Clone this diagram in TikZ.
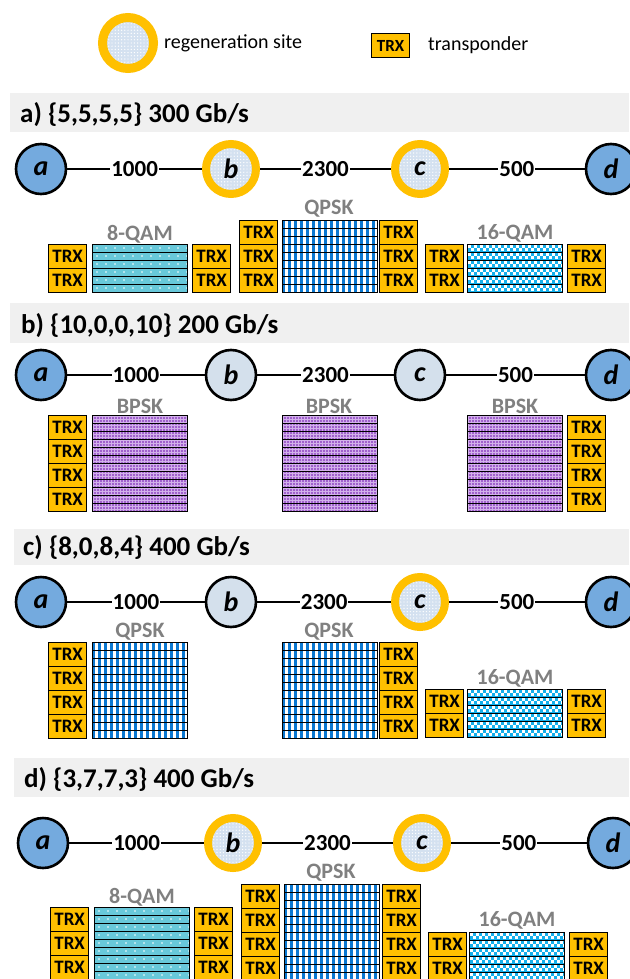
\documentclass[tikz,border=0pt]{standalone}
\usepackage{fontspec}
\setmainfont{Carlito}
\newcommand\myfs[1]{\fontsize{#1}{#1}\selectfont}
\definecolor{gold}{RGB}{255,192,0}
\definecolor{nodeblue}{RGB}{116,170,222}
\definecolor{nodelight}{RGB}{212,224,236}
\definecolor{regenfill}{RGB}{212,225,240}
\definecolor{hdr}{RGB}{240,240,240}
\definecolor{modgray}{RGB}{128,128,128}
\definecolor{qam8col}{RGB}{104,200,218}
\definecolor{qpskcol}{RGB}{10,120,210}
\definecolor{qam16col}{RGB}{20,176,236}
\definecolor{bpskcol}{RGB}{160,96,204}
\definecolor{bpsklight}{RGB}{210,176,234}
\tikzset{
  every node/.style={inner sep=0pt},
  trx/.style={draw=black, line width=1.3pt, fill=gold, minimum width=38pt, minimum height=24pt, anchor=north west, font=\myfs{19}\bfseries},
  endnode/.style={circle, draw=black, line width=2.6pt, fill=nodeblue, minimum size=50pt, font=\myfs{28}\bfseries\itshape},
  midnode/.style={endnode, fill=nodelight},
  regen/.style={circle, draw=gold, line width=8pt, fill=regenfill, minimum size=50pt, outer sep=4pt, font=\myfs{28}\bfseries\itshape,
    path picture={\foreach \i in {-7,...,7}\foreach \j in {-7,...,7}\fill[white] ([xshift=\i*3.2pt,yshift=\j*3.2pt]path picture bounding box.center) circle (0.7pt);}},
  link/.style={line width=2.2pt, draw=black},
  dist/.style={fill=white, inner xsep=1pt, inner ysep=1pt, font=\myfs{23}\bfseries},
  modlbl/.style={text=modgray, font=\myfs{22}\bfseries},
  title/.style={anchor=base west, font=\myfs{27}\bfseries},
  chanbox/.style={anchor=north west, minimum width=95pt, inner sep=0pt},
  sepline/.style={black, line width=0.8pt},
  chanedge/.style={black, line width=1pt},
  hdrband/.style={fill=hdr},
}
\newcommand\patqpsk[3]{%
  \foreach \i in {0,...,15} \fill[white] (#1+2.5+6*\i,#2) rectangle ++(3,8*#3);}
\newcommand\patqamE[3]{%
  \foreach \r in {1,...,#3}\foreach \i in {0,...,10} \fill[white] (#1+5+9*\i,#2+8*\r-4) circle (0.8);}
\newcommand\patqamS[3]{%
  \foreach \r in {1,...,#3}\foreach \i in {0,...,16}{%
    \fill[white] (#1+1+6*\i,#2+8*\r-7) rectangle ++(2.6,2.6);
    \fill[white] (#1+4+6*\i,#2+8*\r-3.6) rectangle ++(2.6,2.6);}}
\newcommand\patbpsk[3]{%
  \pgfmathtruncatemacro\bpn{8*#3/3}
  \foreach \i in {0,...,31} \draw[bpsklight, line width=0.8pt] (#1+1.5+3*\i,#2) -- ++(0,8*#3);
  \foreach \j in {0,...,\bpn} \draw[bpsklight, line width=0.8pt] (#1,#2+1.5+3*\j) -- ++(95,0);}
% name, x, y, stripes, type, colour
\newcommand\Chan[6]{%
  \pgfmathsetmacro\chh{8*#4}
  \node[chanbox, fill=#6, minimum height=\chh pt] (#1) at (#2,#3) {};
  \begin{scope}
    \clip (#2,#3) rectangle ++(95,\chh);
    \csname pat#5\endcsname{#2}{#3}{#4}
  \end{scope}
  \pgfmathtruncatemacro\chlast{#4-1}
  \foreach \k in {1,...,\chlast} \draw[sepline] (#2,#3+8*\k) -- ++(95,0);
  \draw[chanedge] (#1.north west) rectangle (#1.south east);
}
% name, x, y, count
\newcommand\Stack[4]{%
  \pgfmathtruncatemacro\stlast{#4-1}
  \foreach \k in {0,...,\stlast}{\node[trx] (#1\k) at (#2,#3+24*\k) {TRX};}
}
% prefix, y, x offset, style b, style c
\newcommand\Net[5]{%
  \node[endnode] (#1a) at (41+#3,#2) {a};
  \node[#4] (#1b) at (231+#3,#2) {b};
  \node[#5] (#1c) at (420+#3,#2) {c};
  \node[endnode] (#1d) at (611+#3,#2) {d};
  \draw[link] (#1a) -- node[dist]{1000} (#1b);
  \draw[link] (#1b) -- node[dist]{2300} (#1c);
  \draw[link] (#1c) -- node[dist]{500} (#1d);
}
\begin{document}
\begin{tikzpicture}[x=1pt,y=-1pt]
\useasboundingbox (0,0) rectangle (629,979);
\fill[white] (0,0) rectangle (629,979);
% legend
\node[regen, line width=9pt, minimum size=51pt] (lgR) at (128,43) {};
\node[anchor=west, font=\myfs{20}] (lgRt) at (164,43) {regeneration site};
\node[trx, font=\myfs{17}\bfseries] (lgT) at (371,33) {TRX};
\node[anchor=west, font=\myfs{20}] (lgTt) at (428,45) {transponder};
% ---------- a ----------
\fill[hdrband] (10,93) rectangle (629,132);
\node[title] (tA) at (20,122) {a) \{5,5,5,5\} 300 Gb/s};
\Net{A}{169}{0}{regen}{regen}
\Stack{AL}{48}{244}{2}
\Chan{Ach1}{92}{244}{6}{qamE}{qam8col}
\Stack{AM}{192}{244}{2}
\Stack{AN}{239}{220}{3}
\Chan{Ach2}{282}{220}{9}{qpsk}{qpskcol}
\Stack{AO}{379}{220}{3}
\Stack{AP}{425}{244}{2}
\Chan{Ach3}{467}{244}{6}{qamS}{qam16col}
\Stack{AR}{567}{244}{2}
\node[modlbl] (Am1) at (140,234) {8-QAM};
\node[modlbl] (Am2) at (329,209) {QPSK};
\node[modlbl] (Am3) at (515,233) {16-QAM};
% ---------- b ----------
\fill[hdrband] (10,303) rectangle (629,343);
\node[title] (tB) at (21,333) {b) \{10,0,0,10\} 200 Gb/s};
\Net{B}{375}{0}{midnode}{midnode}
\Stack{BL}{48}{415}{4}
\Chan{Bch1}{92}{415}{12}{bpsk}{bpskcol}
\Chan{Bch2}{282}{415}{12}{bpsk}{bpskcol}
\Chan{Bch3}{467}{415}{12}{bpsk}{bpskcol}
\Stack{BR}{567}{415}{4}
\node[modlbl] (Bm1) at (140,406) {BPSK};
\node[modlbl] (Bm2) at (329,406) {BPSK};
\node[modlbl] (Bm3) at (515,406) {BPSK};
% ---------- c ----------
\fill[hdrband] (14,529) rectangle (629,565);
\node[title] (tC) at (23,555) {c) \{8,0,8,4\} 400 Gb/s};
\Net{C}{602}{0}{midnode}{regen}
\Stack{CL}{48}{642}{4}
\Chan{Cch1}{92}{642}{12}{qpsk}{qpskcol}
\Chan{Cch2}{282}{642}{12}{qpsk}{qpskcol}
\Stack{CO}{379}{642}{4}
\Stack{CP}{425}{689}{2}
\Chan{Cch3}{467}{689}{6}{qamS}{qam16col}
\Stack{CR}{567}{689}{2}
\node[modlbl] (Cm1) at (140,632) {QPSK};
\node[modlbl] (Cm2) at (329,632) {QPSK};
\node[modlbl] (Cm3) at (515,678) {16-QAM};
% ---------- d ----------
\fill[hdrband] (14,758) rectangle (629,797);
\node[title] (tD) at (24,787) {d) \{3,7,7,3\} 400 Gb/s};
\Net{D}{843}{2}{regen}{regen}
\Stack{DL}{50}{907}{3}
\Chan{Dch1}{94}{907}{9}{qamE}{qam8col}
\Stack{DM}{194}{907}{3}
\Stack{DN}{241}{884}{4}
\Chan{Dch2}{284}{884}{12}{qpsk}{qpskcol}
\Stack{DO}{382}{884}{4}
\Stack{DP}{428}{932}{2}
\Chan{Dch3}{469}{932}{6}{qamS}{qam16col}
\Stack{DR}{569}{932}{2}
\node[modlbl] (Dm1) at (142,897) {8-QAM};
\node[modlbl] (Dm2) at (331,873) {QPSK};
\node[modlbl] (Dm3) at (517,920) {16-QAM};
\end{tikzpicture}
\end{document}
